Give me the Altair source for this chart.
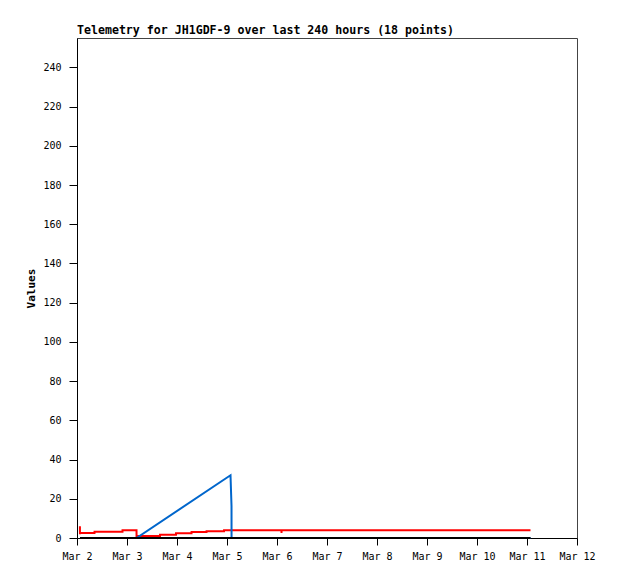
import altair as alt
import pandas as pd

# Channel 1 (red)
red_times = [
    "2021-03-02T01:24", "2021-03-02T01:25", "2021-03-02T01:26",
    "2021-03-02T08:24", "2021-03-02T08:25",
    "2021-03-02T21:50", "2021-03-02T21:51",
    "2021-03-03T04:34", "2021-03-03T04:35",
    "2021-03-03T15:50", "2021-03-03T15:51",
    "2021-03-03T23:31", "2021-03-03T23:32",
    "2021-03-04T06:58", "2021-03-04T06:59",
    "2021-03-04T14:10", "2021-03-04T14:11",
    "2021-03-04T22:34", "2021-03-04T22:35",
    "2021-03-06T02:08", "2021-03-06T02:10", "2021-03-06T02:12",
    "2021-03-11T01:41",
]
red_values = [
    6.0, 1.9, 2.6,
    2.6, 3.15,
    3.15, 3.9,
    3.9, 1.0,
    1.0, 1.7,
    1.7, 2.4,
    2.4, 3.0,
    3.0, 3.5,
    3.5, 3.9,
    3.9, 2.6, 3.9,
    3.9,
]

# Channel 2 (blue)
blue_times = [
    "2021-03-02T01:26", "2021-03-03T04:34", "2021-03-05T01:41",
    "2021-03-05T02:10", "2021-03-05T02:11", "2021-03-11T01:41",
]
blue_values = [0, 0, 32, 16.3, 0, 0]

# Channel 3 (black)
black_times = ["2021-03-02T01:26", "2021-03-11T01:41"]
black_values = [0, 0]

x_tick_days = list(range(2, 13))
y_ticks = list(range(0, 241, 20))

rows = []
for name, ts, vs in [("ch1", red_times, red_values),
                     ("ch2", blue_times, blue_values),
                     ("ch3", black_times, black_values)]:
    for i, (t, v) in enumerate(zip(ts, vs)):
        rows.append({"series": name, "t": t, "v": v, "i": i})
df = pd.DataFrame(rows)

mono = "DejaVu Sans Mono"

x_enc = alt.X(
    "t:T",
    scale=alt.Scale(domain=[alt.DateTime(year=2021, month=3, date=2),
                            alt.DateTime(year=2021, month=3, date=12)]),
    axis=alt.Axis(
        title=None,
        values=[alt.DateTime(year=2021, month=3, date=d) for d in x_tick_days],
        format="%b %-d",
        labelFont=mono, labelFontSize=10, labelColor="black",
        domainColor="black", tickColor="black", tickSize=7,
        labelPadding=6, grid=False, labelFlush=False,
    ),
)
y_enc = alt.Y(
    "v:Q",
    scale=alt.Scale(domain=[0, 255], nice=False, zero=True),
    axis=alt.Axis(
        title="Values", titleFont=mono, titleFontSize=11, titleFontWeight="bold",
        titleColor="black", titlePadding=6,
        values=y_ticks,
        labelFont=mono, labelFontSize=10, labelColor="black",
        domainColor="black", tickColor="black", tickSize=8,
        labelPadding=8, grid=False,
    ),
)

def layer(name, color):
    return alt.Chart(df).transform_filter(
        alt.datum.series == name
    ).mark_line(color=color, strokeWidth=2, interpolate="linear").encode(
        x=x_enc, y=y_enc, order="i:Q"
    )

chart = alt.layer(
    layer("ch1", "#ff0000"),
    layer("ch2", "#0066cc"),
    layer("ch3", "#000000"),
).properties(
    width=500,
    height=500,
    background="white",
    title=alt.TitleParams(
        "Telemetry for JH1GDF-9 over last 240 hours (18 points)",
        anchor="start", frame="group", font=mono, fontSize=11.6, fontWeight="bold",
        color="black", offset=1,
    ),
    autosize=alt.AutoSizeParams(type="none"),
    padding={"left": 69, "top": 30, "right": 33, "bottom": 33},
).configure_view(stroke="#444444", strokeWidth=1)

chart.save("out.html", embed_options={"renderer": "svg", "actions": False})
